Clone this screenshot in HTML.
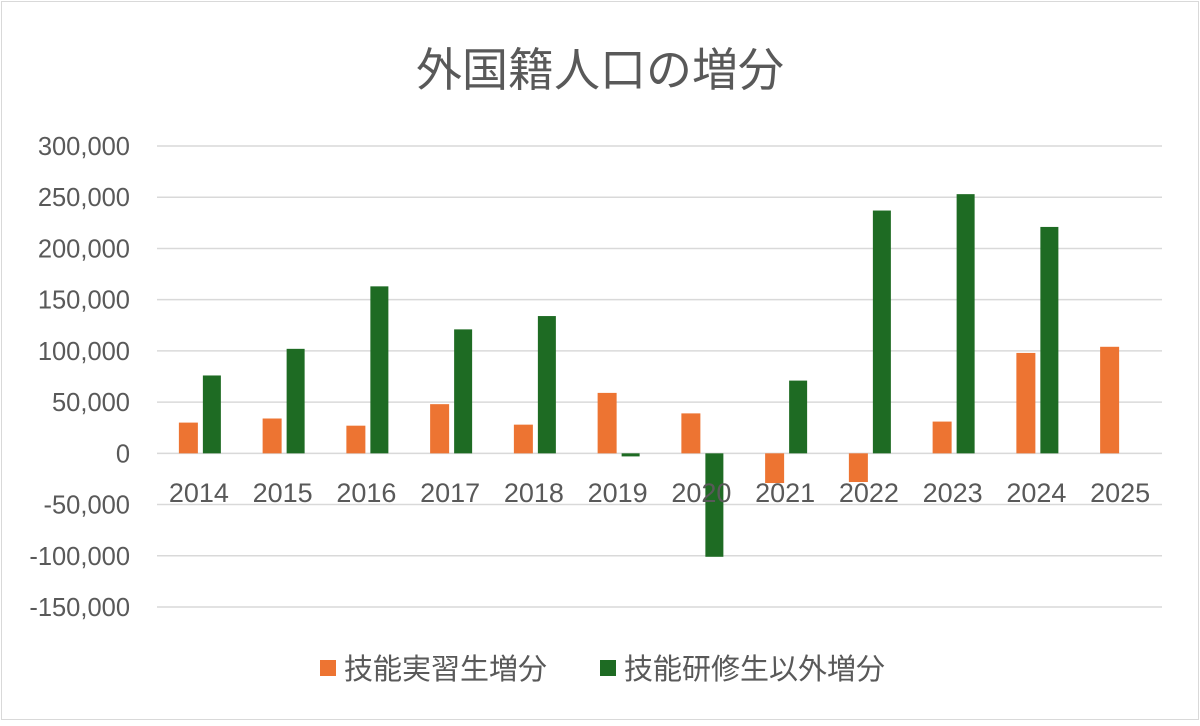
<!DOCTYPE html>
<html><head><meta charset="utf-8"><style>
body{margin:0;background:#fff;}
svg text{font-family:"Liberation Sans","Noto Sans CJK JP",sans-serif;fill:#595959;}
</style></head><body>
<svg width="1200" height="721">
<rect x="1.5" y="1.5" width="1197" height="718" fill="#fff" stroke="#d9d9d9" stroke-width="1"/>
<text x="600" y="86" text-anchor="middle" font-size="46">外国籍人口の増分</text>
<g id="grid"></g><g id="bars"></g><g id="xlabels"></g>
<g>
<rect x="320" y="660" width="16" height="16" fill="#ED7432"/>
<text x="344" y="679" font-size="29">技能実習生増分</text>
<rect x="600" y="660" width="16" height="16" fill="#1E6B23"/>
<text x="624" y="679" font-size="29">技能研修生以外増分</text>
</g>
</svg>
<script>
const categories=["2014","2015","2016","2017","2018","2019","2020","2021","2022","2023","2024","2025"];
const traineeValues=[30000,34000,27000,48000,28000,59000,39000,-29000,-28000,31000,98000,104000];
const otherValues=[76000,102000,163000,121000,134000,-3000,-101000,71000,237000,253000,221000,0];
const yTicks=[300000,250000,200000,150000,100000,50000,0,-50000,-100000,-150000];
const NS="http://www.w3.org/2000/svg";
const x0=157,x1=1162,yTop=146,yBot=607,vMax=300000,vMin=-150000;
const y=v=>yTop+(vMax-v)/(vMax-vMin)*(yBot-yTop);
const bw=(x1-x0)/categories.length;
const cx=i=>x0+bw*(i+0.5);
function mk(tag,attrs,parent){const e=document.createElementNS(NS,tag);for(const k in attrs)e.setAttribute(k,attrs[k]);parent.appendChild(e);return e;}
const grid=document.getElementById('grid'),bars=document.getElementById('bars'),xl=document.getElementById('xlabels');
yTicks.forEach(t=>{
 const l=mk('line',{x1:x0,x2:x1,y1:y(t),y2:y(t),stroke:'#d9d9d9','stroke-width':1.5},grid);
 
 
 const tx=mk('text',{x:130,y:y(t)+9,'text-anchor':'end','font-size':25.5},grid);
 tx.textContent=t.toLocaleString('en-US');
 
 
});
categories.forEach((c,i)=>{
 const a=traineeValues[i],b=otherValues[i];
 const r1=mk('rect',{x:cx(i)-20,width:19,y:Math.min(y(a),y(0)),height:Math.abs(y(a)-y(0)),fill:'#ED7432'},bars);
 
 
 const r2=mk('rect',{x:cx(i)+4,width:18,y:Math.min(y(b),y(0)),height:Math.abs(y(b)-y(0)),fill:'#1E6B23'},bars);
 
 
 const t=mk('text',{x:cx(i),y:502,'text-anchor':'middle','font-size':27},xl);
 t.textContent=c;
 
 
});
</script>
</body></html>
